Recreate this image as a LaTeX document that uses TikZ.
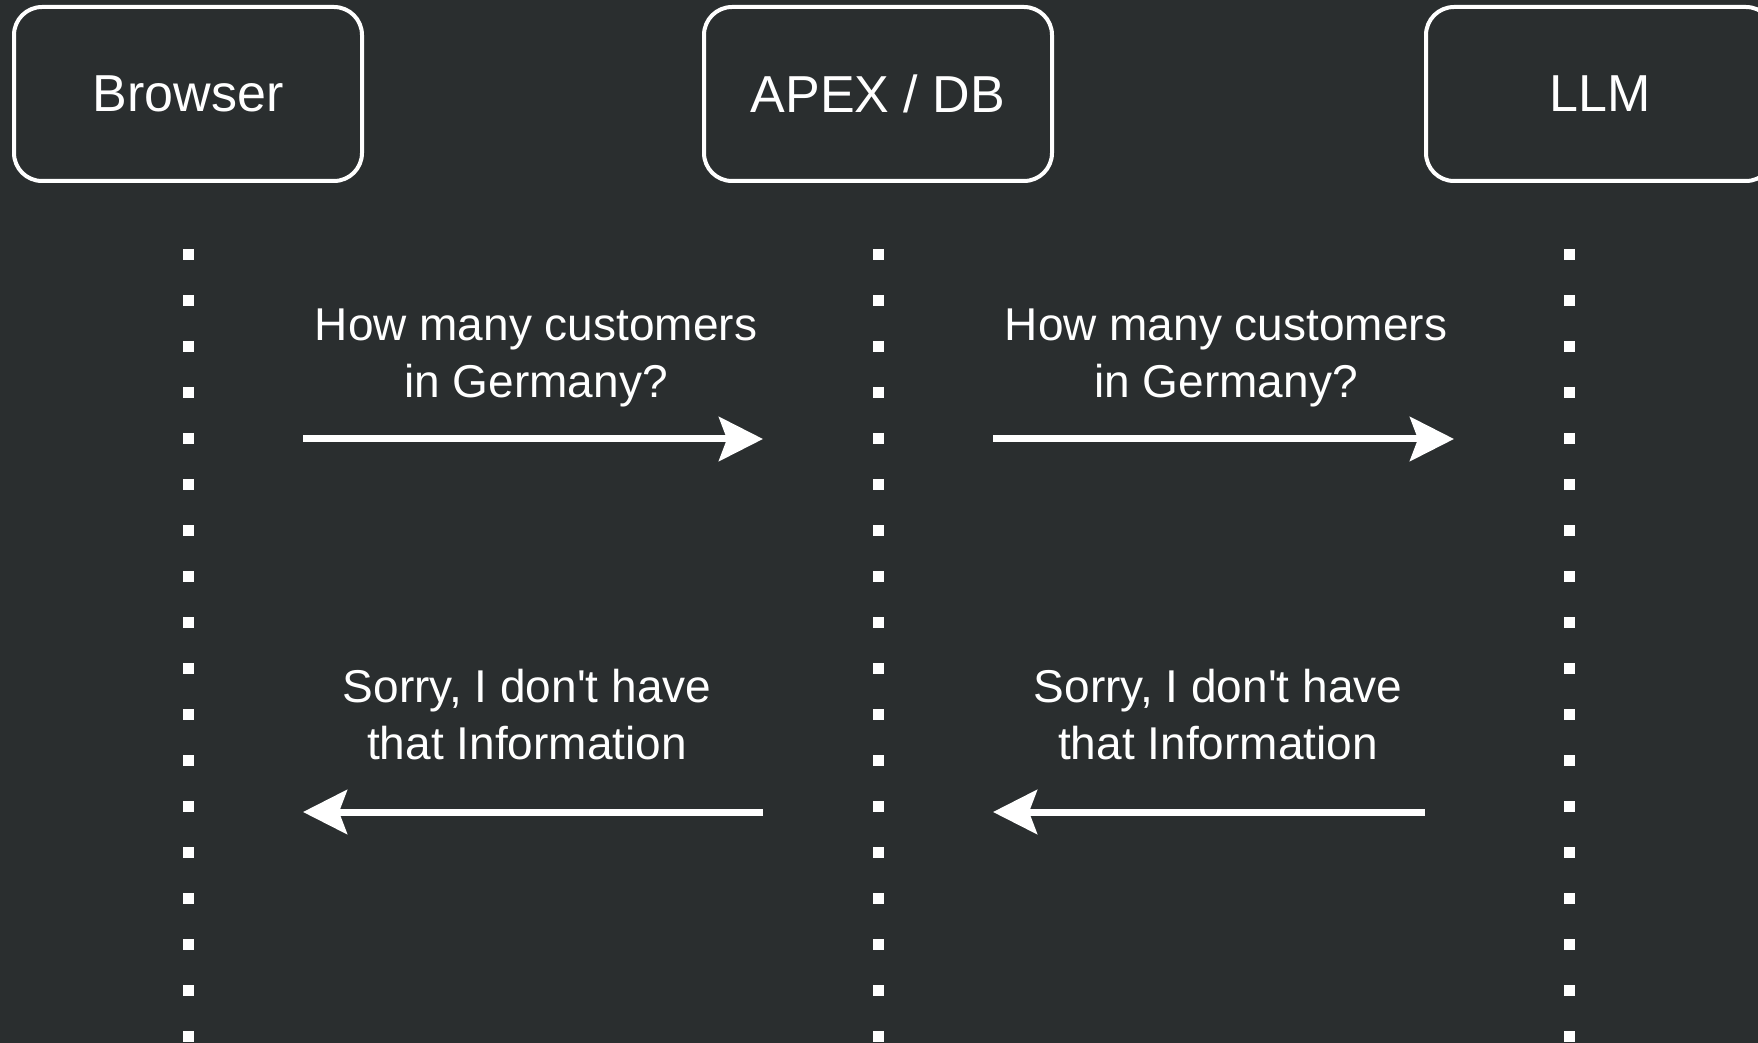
\documentclass[tikz,border=0pt]{standalone}
\usepackage{fontspec}
\setmainfont{Liberation Sans}
\usepackage{xcolor}
\usetikzlibrary{positioning, arrows.meta}
\definecolor{canvas}{RGB}{42,46,47}
\tikzset{x=0.5pt, y=-0.5pt,
         node distance=171pt,
         actor/.style={draw=white, line width=2pt, rounded corners=14pt, outer sep=0pt,
                       minimum width=174pt, minimum height=87pt, text=white,
                       font=\fontsize{26}{31}\selectfont},
         msg/.style={text=white, align=center, inner sep=0pt,
                     font=\fontsize{23}{28.5}\selectfont},
         lifeline/.style={white, line width=5.5pt, dash pattern=on 5.5pt off 17.5pt},
         call/.style={white, line width=3.5pt, -{Stealth[length=22pt, width=22pt, inset=4pt]}},
         }

\begin{document}
\begin{tikzpicture}
    \clip (0,0) rectangle (1758,1043);
    \fill[canvas] (0,0) rectangle (1758,1043);

    \node[actor] (browser) at (188,94) {Browser};
    \node[actor, right=of browser] (apex) {APEX / DB};
    \node[actor, right=187pt of apex] (llm) {LLM};

    \coordinate (bTop) at (188,249);
    \coordinate (bEnd) at (188,1070);
    \coordinate (aTop) at (878,249);
    \coordinate (aEnd) at (878,1070);
    \coordinate (lTop) at (1569,249);
    \coordinate (lEnd) at (1569,1070);

    \draw[lifeline] (bTop) -- (bEnd);
    \draw[lifeline] (aTop) -- (aEnd);
    \draw[lifeline] (lTop) -- (lEnd);

    \coordinate (q1s) at (303,439);
    \coordinate (q1e) at (763,439);
    \coordinate (q2s) at (993,439);
    \coordinate (q2e) at (1454,439);
    \coordinate (r2s) at (1425,812);
    \coordinate (r2e) at (993,812);
    \coordinate (r1s) at (763,812);
    \coordinate (r1e) at (303,812);

    \node[msg] (ask1) at (536,358) {How many customers\\in Germany?};
    \node[msg] (ask2) at (1226,358) {How many customers\\in Germany?};
    \node[msg] (deny2) at (1218,715) {Sorry, I don\textquotesingle t have\\that Information};
    \node[msg] (deny1) at (527,715) {Sorry, I don\textquotesingle t have\\that Information};

    \draw[call] (q1s) -- (q1e);
    \draw[call] (q2s) -- (q2e);
    \draw[call] (r2s) -- (r2e);
    \draw[call] (r1s) -- (r1e);
\end{tikzpicture}
\end{document}
